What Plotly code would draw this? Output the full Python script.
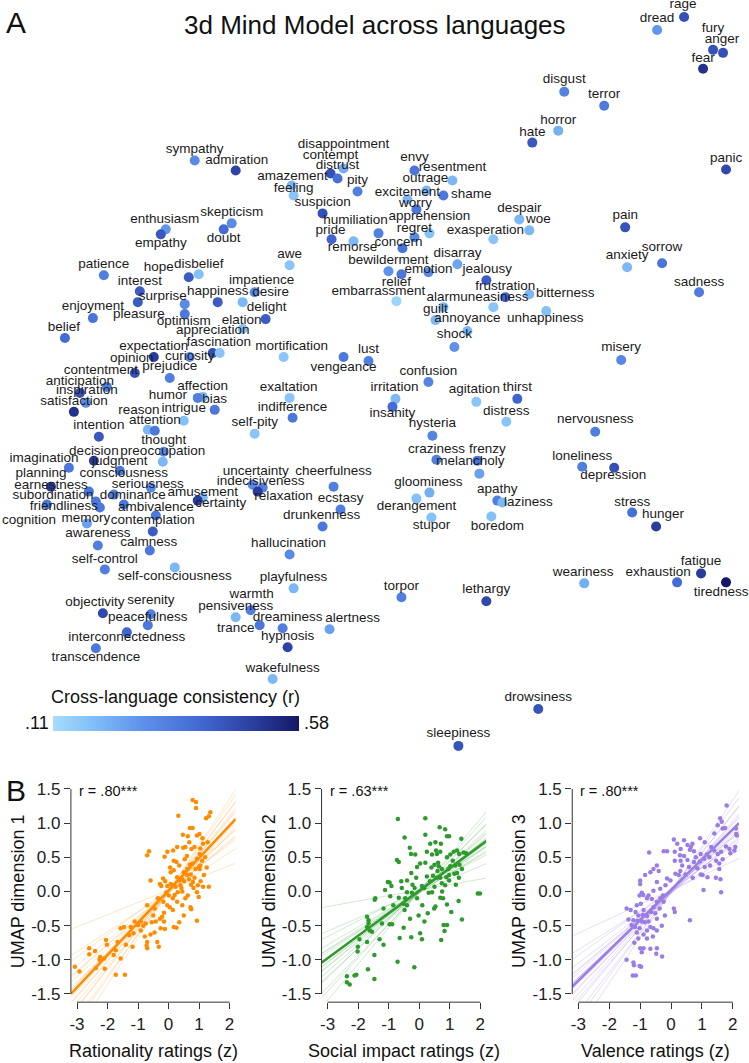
import plotly.graph_objects as go

W, H = 749, 1063
FONT = "Liberation Sans, Arial, sans-serif"

# ---------------- panel A: word map (embedding units) ----------------
words = ["rage", "dread", "fury", "anger", "fear", "disgust", "terror", "horror", "hate", "panic",
         "pain", "sorrow", "anxiety", "sadness", "despair", "woe", "misery", "thirst", "distress", "nervousness",
         "loneliness", "depression", "stress", "hunger", "weariness", "exhaustion", "fatigue", "tiredness", "drowsiness", "sleepiness",
         "lethargy", "sympathy", "admiration", "disappointment", "contempt", "distrust", "amazement", "feeling", "pity", "suspicion",
         "humiliation", "pride", "remorse", "envy", "resentment", "outrage", "excitement", "shame", "worry", "apprehension",
         "regret", "concern", "exasperation", "enthusiasm", "empathy", "skepticism", "doubt", "awe", "bewilderment", "disarray",
         "emotion", "relief", "jealousy", "frustration", "uneasiness", "bitterness", "alarm", "guilt", "annoyance", "unhappiness",
         "embarrassment", "shock", "mortification", "lust", "vengeance", "confusion", "exaltation", "irritation", "agitation", "indifference",
         "insanity", "hysteria", "craziness", "frenzy", "melancholy", "self-pity", "patience", "hope", "disbelief", "interest",
         "surprise", "pleasure", "optimism", "happiness", "impatience", "desire", "delight", "elation", "appreciation", "enjoyment",
         "belief", "fascination", "expectation", "curiosity", "opinion", "prejudice", "contentment", "anticipation", "inspiration", "satisfaction",
         "affection", "humor", "bias", "reason", "intrigue", "attention", "intention", "thought", "decision", "preoccupation",
         "imagination", "judgment", "planning", "consciousness", "earnestness", "seriousness", "subordination", "dominance", "amusement", "certainty",
         "friendliness", "ambivalence", "cognition", "memory", "contemplation", "awareness", "calmness", "self-control", "self-consciousness", "objectivity",
         "serenity", "peacefulness", "interconnectedness", "transcendence", "uncertainty", "indecisiveness", "relaxation", "cheerfulness", "ecstasy", "drunkenness",
         "hallucination", "playfulness", "warmth", "pensiveness", "trance", "dreaminess", "hypnosis", "alertness", "wakefulness", "torpor",
         "gloominess", "derangement", "stupor", "apathy", "laziness", "boredom"]

word_x = [684, 657, 713, 723, 703, 564, 604, 558, 532, 726,
          625, 662, 627, 699, 519, 529, 621, 517, 506, 595,
          582, 614, 632, 656, 584, 677, 701, 726, 538, 458,
          486, 194, 235, 343, 330, 337, 291, 293, 357, 322,
          378, 331, 353, 414, 452, 426, 407, 443, 416, 429,
          414, 402, 493, 165, 160, 231, 223, 289, 388, 457,
          428, 401, 486, 505, 493, 529, 443, 435, 467, 546,
          396, 454, 283, 368, 343, 428, 289, 395, 476, 292,
          392, 432, 436, 477, 479, 254, 103, 188, 198, 139,
          184, 137, 184, 217, 242, 254, 265, 242, 212, 92,
          64, 219, 153, 189, 134, 169, 106, 79, 85, 73,
          202, 197, 214, 147, 183, 154, 98, 163, 93, 162,
          68, 119, 88, 113, 50, 150, 95, 123, 202, 197,
          99, 155, 46, 86, 152, 97, 149, 104, 174, 102,
          150, 147, 126, 95, 262, 252, 257, 333, 340, 322,
          289, 293, 250, 235, 259, 282, 287, 329, 272, 401,
          429, 416, 431, 497, 502, 491]

word_y = [16, 29, 49, 52, 68, 91, 105, 130, 142, 169,
          227, 263, 267, 292, 219, 230, 360, 399, 422, 432,
          467, 468, 513, 527, 584, 583, 574, 583, 710, 747,
          602, 160, 170, 168, 173, 178, 185, 195, 191, 213,
          233, 239, 241, 170, 180, 190, 199, 195, 209, 233,
          237, 248, 239, 229, 234, 223, 229, 265, 271, 264,
          272, 274, 280, 297, 307, 294, 307, 320, 331, 311,
          301, 347, 357, 361, 357, 382, 398, 399, 402, 418,
          407, 436, 460, 461, 474, 434, 275, 277, 274, 291,
          304, 302, 314, 302, 302, 292, 319, 329, 353, 318,
          338, 353, 357, 357, 373, 378, 387, 393, 403, 412,
          397, 398, 410, 430, 421, 431, 437, 452, 461, 462,
          468, 471, 492, 495, 487, 488, 502, 505, 498, 501,
          508, 516, 505, 524, 532, 546, 551, 570, 568, 614,
          615, 626, 633, 649, 488, 485, 492, 487, 510, 527,
          555, 589, 611, 618, 626, 629, 648, 630, 680, 598,
          493, 499, 518, 501, 503, 517]

label_x = [683, 657, 713, 722, 703, 564, 604, 558, 532, 726,
           625, 662, 627, 699, 519, 538, 621, 517, 506, 595,
           582, 613, 632, 663, 583, 658, 701, 721, 538, 458,
           486, 194, 236, 343, 330, 337, 292, 293, 357, 322,
           355, 330, 352, 414, 452, 425, 407, 471, 415, 429,
           414, 398, 485, 164, 160, 231, 223, 289, 388, 457,
           428, 396, 487, 505, 494, 565, 443, 435, 467, 545,
           378, 454, 291, 368, 343, 428, 288, 394, 474, 292,
           392, 432, 436, 487, 470, 254, 103, 158, 198, 139,
           162, 138, 183, 217, 261, 270, 266, 241, 212, 92,
           63, 218, 153, 189, 131, 169, 100, 79, 86, 73,
           202, 167, 214, 138, 183, 154, 98, 163, 93, 162,
           43, 119, 40, 123, 50, 147, 52, 132, 202, 220,
           63, 155, 28, 85, 152, 97, 148, 104, 174, 94,
           150, 147, 126, 95, 255, 260, 283, 333, 340, 321,
           288, 293, 251, 235, 235, 287, 287, 352, 282, 401,
           428, 416, 431, 497, 528, 497]

label_y = [4, 18, 28, 39, 58, 79, 94, 120, 132, 158,
           215, 247, 255, 282, 208, 219, 348, 388, 412, 420,
           457, 476, 503, 515, 573, 573, 562, 593, 699, 735,
           590, 149, 160, 144, 155, 165, 176, 188, 180, 202,
           220, 230, 247, 157, 167, 178, 192, 194, 203, 216,
           228, 242, 230, 219, 243, 212, 238, 254, 260, 253,
           269, 282, 269, 286, 297, 293, 297, 309, 319, 319,
           291, 335, 347, 350, 368, 372, 388, 388, 390, 408,
           414, 424, 450, 450, 462, 423, 264, 267, 264, 281,
           296, 315, 322, 291, 280, 292, 307, 321, 331, 306,
           328, 343, 347, 357, 359, 367, 371, 382, 391, 402,
           387, 396, 400, 411, 409, 421, 426, 441, 452, 452,
           459, 462, 474, 474, 486, 485, 496, 496, 493, 504,
           507, 508, 521, 519, 521, 534, 543, 560, 577, 603,
           601, 618, 638, 658, 472, 482, 497, 472, 499, 516,
           544, 578, 595, 607, 629, 618, 637, 619, 670, 587,
           483, 507, 526, 490, 503, 527]

consistency = [.45, .27, .45, .45, .52, .32, .34, .22, .43, .47,
               .44, .36, .20, .34, .20, .20, .31, .40, .17, .33,
               .33, .45, .37, .50, .22, .38, .50, .58, .44, .44,
               .47, .30, .48, .22, .45, .37, .20, .17, .33, .45,
               .33, .40, .20, .36, .20, .20, .20, .35, .35, .18,
               .30, .36, .17, .27, .43, .30, .38, .17, .28, .24,
               .30, .35, .42, .40, .17, .20, .20, .20, .20, .18,
               .13, .28, .17, .33, .35, .32, .17, .20, .17, .35,
               .38, .32, .33, .36, .25, .17, .33, .42, .18, .42,
               .30, .42, .35, .42, .20, .30, .42, .18, .45, .36,
               .38, .17, .50, .30, .45, .33, .33, .45, .30, .52,
               .20, .33, .35, .20, .18, .35, .43, .30, .50, .20,
               .35, .35, .35, .33, .50, .30, .35, .35, .20, .50,
               .35, .35, .35, .25, .42, .33, .35, .33, .20, .47,
               .33, .35, .40, .35, .33, .30, .50, .33, .33, .35,
               .30, .20, .33, .20, .35, .33, .48, .25, .20, .33,
               .22, .18, .18, .33, .20, .18]

blues = [[0.0, "#a6dcfd"], [0.15, "#84c1f8"], [0.35, "#5f94ec"],
         [0.6, "#4268d2"], [0.8, "#2d41a4"], [1.0, "#141866"]]

# ---------------- panel B: ratings vs UMAP dimensions ----------------
rationality_pts = [
    (0.79, 1.34), (0.90, 1.31), (0.90, 1.22), (0.32, 1.11), (1.23, 1.07), (1.32, 1.10), (1.37, 1.16), (0.70, 0.93), (0.79, 0.93), (0.47, 0.83),
    (0.63, 0.81), (0.93, 0.82), (1.01, 0.84), (1.11, 0.78), (-0.64, 0.59), (-0.70, 0.53), (-0.04, 0.58), (-0.13, 0.51), (0.28, 0.65), (0.48, 0.64),
    (0.55, 0.65), (0.75, 0.62), (0.85, 0.65), (1.04, 0.63), (1.13, 0.70), (1.28, 0.72), (0.17, 0.45), (0.26, 0.43), (0.53, 0.47), (1.02, 0.55),
    (1.10, 0.45), (0.93, 0.48), (1.04, 0.38), (0.70, 0.39), (0.78, 0.41), (0.61, 0.33), (0.88, 0.33), (0.99, 0.36), (1.02, 0.33), (0.07, 0.28),
    (0.17, 0.31), (0.50, 0.28), (0.61, 0.24), (0.73, 0.25), (1.16, 0.24), (-0.18, 0.19), (-0.11, 0.15), (0.28, 0.21), (0.37, 0.16), (0.45, 0.18),
    (0.51, 0.15), (0.67, 0.18), (0.80, 0.14), (0.74, 0.10), (-0.59, 0.16), (-0.28, 0.11), (-0.24, 0.08), (-0.04, 0.08), (0.07, 0.11), (0.12, 0.09),
    (0.23, 0.07), (0.39, 0.09), (0.96, 0.09), (1.13, 0.07), (1.32, 0.07), (-0.07, -0.01), (0.01, -0.06), (0.30, -0.01), (0.45, 0.00), (0.93, -0.01),
    (0.99, -0.08), (0.63, -0.06), (0.14, -0.10), (0.28, -0.15), (-0.17, -0.15), (-0.04, -0.20), (0.45, -0.20), (0.72, -0.23), (0.74, -0.26), (-0.70, -0.20),
    (-0.46, -0.25), (0.04, -0.23), (0.14, -0.27), (-0.15, -0.31), (-0.21, -0.37), (-0.28, -0.40), (-0.15, -0.44), (0.50, -0.35), (0.93, -0.43), (-0.50, -0.35),
    (-0.42, -0.44), (-0.26, -0.54), (-0.46, -0.60), (-0.59, -0.63), (-0.37, -0.74), (-0.32, -0.81), (0.17, -0.52), (0.26, -0.53), (-0.75, -0.47), (-0.91, -0.44),
    (-0.83, -0.50), (-1.00, -0.49), (-0.91, -0.57), (-0.78, -0.66), (-0.70, -0.74), (-0.72, -0.79), (-0.70, -0.83), (-1.11, -0.44), (-1.24, -0.52), (-1.29, -0.64),
    (-1.15, -0.61), (-1.46, -0.52), (-1.57, -0.54), (-1.40, -0.78), (-1.18, -0.81), (-1.57, -0.98), (-1.67, -0.74), (-1.73, -0.86), (-1.80, -0.93), (-2.05, -0.71),
    (-2.02, -0.78), (-2.11, -0.98), (-2.09, -1.13), (-2.24, -0.96), (-2.26, -1.00), (-2.41, -0.87), (-2.60, -0.83), (-2.60, -0.92), (-2.38, -1.12), (-1.73, -1.22),
    (-1.43, -1.22), (-3.07, -1.10), (-2.92, -1.17), (0.35, 0.38), (0.60, 0.52), (0.42, 0.05), (0.20, -0.05), (0.85, 0.20), (1.20, 0.50), (0.55, -0.10),
    (-0.35, -0.10), (0.05, 0.35), (0.68, 0.72), (1.05, 0.15), (0.35, -0.45), (-0.55, -0.45), (0.82, 0.05), (-0.12, -0.55), (1.25, 0.35), (0.15, 0.60)]

social_pts = [
    (-0.70, 1.06), (0.20, 1.07), (-0.48, 0.79), (0.20, 0.83), (0.67, 0.94), (0.85, 0.91), (0.91, 0.81), (0.98, 0.81), (1.38, 0.77), (0.36, 0.70),
    (0.53, 0.72), (0.71, 0.70), (-0.31, 0.64), (-0.27, 0.55), (-0.13, 0.54), (-0.73, 0.46), (-0.67, 0.43), (0.03, 0.41), (0.20, 0.42), (0.42, 0.54),
    (0.58, 0.55), (0.69, 0.58), (1.02, 0.54), (1.13, 0.58), (1.24, 0.60), (1.31, 0.55), (1.45, 0.57), (1.54, 0.56), (0.91, 0.50), (0.50, 0.39),
    (0.64, 0.37), (0.74, 0.33), (0.96, 0.33), (1.02, 0.37), (1.18, 0.38), (1.32, 0.39), (1.40, 0.33), (-0.07, 0.36), (-0.26, 0.27), (-0.40, 0.16),
    (-0.59, 0.15), (-1.03, 0.14), (-0.97, 0.13), (-0.91, 0.08), (0.25, 0.22), (0.45, 0.23), (0.58, 0.20), (0.69, 0.20), (0.89, 0.21), (0.98, 0.24),
    (1.15, 0.26), (1.24, 0.27), (0.98, 0.16), (0.74, 0.12), (-0.22, 0.10), (-0.15, 0.05), (0.09, 0.08), (0.17, 0.05), (0.50, 0.07), (0.85, 0.09),
    (-1.12, 0.02), (-0.57, 0.05), (-0.40, -0.01), (-0.24, -0.02), (0.31, -0.02), (0.42, -0.01), (1.92, -0.03), (1.99, -0.03), (-0.95, -0.07), (-0.67, -0.09),
    (-0.46, -0.10), (-0.07, -0.10), (0.69, -0.09), (0.78, -0.10), (1.29, -0.14), (-1.44, -0.10), (-1.46, -0.12), (-0.51, -0.18), (-0.40, -0.20), (-0.48, -0.27),
    (0.53, -0.22), (0.49, -0.25), (0.91, -0.19), (-1.17, -0.25), (-0.02, -0.35), (0.28, -0.32), (1.05, -0.30), (1.40, -0.41), (0.17, -0.44), (-1.71, -0.37),
    (-1.66, -0.42), (-1.66, -0.47), (-1.71, -0.52), (-1.62, -0.57), (-1.55, -0.59), (-1.22, -0.47), (-0.97, -0.48), (-0.89, -0.48), (-0.51, -0.53), (0.80, -0.49),
    (0.91, -0.49), (0.83, -0.58), (-1.30, -0.70), (-1.96, -0.70), (-1.71, -0.74), (0.03, -0.61), (0.09, -0.70), (-0.64, -0.68), (-0.26, -0.67), (0.72, -0.71),
    (-2.01, -0.81), (-2.02, -0.88), (-1.17, -0.78), (-1.47, -0.93), (-0.71, -1.03), (-0.16, -1.11), (-1.68, -1.14), (-2.37, -1.24), (-2.28, -1.36), (-2.37, -1.33),
    (-2.12, -1.23), (-2.06, -1.22), (-1.47, -1.28), (0.60, 0.30), (0.35, 0.15), (1.10, 0.45), (-0.10, 0.20), (0.62, 0.42), (1.20, 0.10), (0.40, 0.35),
    (-0.85, -0.20), (0.10, -0.20), (0.75, 0.00), (1.30, 0.20), (-0.30, -0.40), (0.55, 0.60), (0.25, 0.58)]

valence_pts = [
    (1.80, 1.26), (1.59, 1.07), (1.64, 1.02), (1.51, 0.97), (1.67, 0.92), (1.75, 0.93), (2.10, 0.92), (2.11, 0.84), (2.13, 0.82), (0.09, 0.76),
    (0.42, 0.75), (0.94, 0.78), (1.09, 0.72), (0.53, 0.68), (0.69, 0.70), (0.64, 0.65), (0.31, 0.62), (0.12, 0.58), (-0.13, 0.59), (-0.24, 0.59),
    (-0.71, 0.57), (0.61, 0.61), (0.74, 0.59), (0.96, 0.55), (1.16, 0.54), (1.40, 0.60), (1.51, 0.55), (1.62, 0.58), (1.78, 0.66), (1.89, 0.62),
    (2.08, 0.65), (2.05, 0.60), (1.92, 0.56), (0.29, 0.53), (0.42, 0.52), (0.12, 0.45), (0.31, 0.45), (0.53, 0.46), (0.74, 0.43), (0.93, 0.44),
    (1.07, 0.48), (1.24, 0.50), (1.46, 0.45), (1.56, 0.41), (1.67, 0.47), (0.36, 0.38), (0.58, 0.36), (-0.46, 0.38), (-0.57, 0.33), (-0.67, 0.28),
    (-0.84, 0.24), (0.85, 0.34), (1.09, 0.36), (1.26, 0.38), (1.56, 0.33), (0.14, 0.26), (0.25, 0.24), (0.47, 0.25), (0.96, 0.25), (1.02, 0.24),
    (1.18, 0.21), (-0.02, 0.16), (-0.13, 0.19), (-0.18, 0.09), (-0.46, 0.14), (-1.00, 0.16), (-1.00, 0.11), (1.05, 0.02), (1.62, -0.01), (-0.35, 0.04),
    (-0.57, 0.01), (-0.95, -0.02), (-1.02, -0.06), (-0.73, -0.06), (-0.78, -0.10), (-0.62, -0.11), (-0.46, -0.15), (-0.35, -0.10), (-0.26, -0.06), (-0.24, -0.15),
    (0.09, -0.25), (0.12, -0.30), (-0.57, -0.23), (-0.37, -0.25), (-1.11, -0.20), (-0.98, -0.18), (-0.89, -0.27), (-1.44, -0.25), (-1.31, -0.27), (-0.51, -0.32),
    (-1.06, -0.35), (-0.92, -0.34), (-0.78, -0.36), (-0.46, -0.40), (-1.38, -0.41), (-1.22, -0.42), (-1.09, -0.43), (-0.95, -0.44), (-0.73, -0.44), (0.61, -0.42),
    (-1.28, -0.49), (-1.17, -0.52), (-1.02, -0.54), (-0.78, -0.57), (-0.67, -0.52), (-0.57, -0.54), (-0.46, -0.57), (-1.11, -0.60), (-0.89, -0.63), (-1.06, -0.69),
    (-0.78, -0.69), (-0.59, -0.66), (-1.19, -0.75), (-0.89, -0.83), (-1.00, -0.83), (-0.67, -0.84), (-0.46, -0.83), (-0.95, -0.89), (-0.48, -0.91), (-0.29, -0.95),
    (-1.44, -1.00), (-1.22, -1.04), (-1.20, -1.08), (-1.02, -1.09), (-0.97, -1.10), (-1.24, -1.23), (-1.14, -1.23), (0.20, 0.70), (0.80, 0.50), (1.30, 0.65),
    (-0.40, 0.30), (-0.85, -0.45), (-0.65, -0.30), (-1.15, -0.30), (-0.30, -0.50), (0.70, 0.20), (1.45, 0.20), (-0.90, -0.05), (-0.20, -0.35), (1.60, 0.18),
    (1.40, 0.85), (0.30, 0.30)]

fit_slope = [0.474, 0.330, 0.443]
fit_icpt = [0.017, 0.012, 0.025]

boot_icpt = [0.02, -0.01, 0.03, 0.00, -0.02, 0.02, 0.01, -0.03, 0.00, 0.03,
             -0.01, 0.01, -0.02, 0.02, 0.00, -0.01, 0.03, -0.02, 0.01, 0.00]
boot_slopes = [
    [0.18, 0.29, 0.33, 0.36, 0.38, 0.40, 0.42, 0.43, 0.45, 0.46, 0.47, 0.49, 0.50, 0.52, 0.54, 0.56, 0.58, 0.61, 0.64, 0.68],
    [0.08, 0.19, 0.23, 0.26, 0.28, 0.29, 0.30, 0.31, 0.32, 0.33, 0.34, 0.35, 0.36, 0.37, 0.39, 0.41, 0.43, 0.46, 0.49, 0.53],
    [0.21, 0.28, 0.32, 0.35, 0.37, 0.39, 0.40, 0.41, 0.42, 0.43, 0.44, 0.45, 0.46, 0.48, 0.50, 0.52, 0.55, 0.58, 0.62, 0.67],
]

r_labels = ["r = .80***", "r = .63***", "r = .80***"]
x_titles = ["Rationality ratings (z)", "Social impact ratings (z)", "Valence ratings (z)"]
y_titles = ["UMAP dimension 1", "UMAP dimension 2", "UMAP dimension 3"]
colors = ["#ff8c00", "#2e9a2e", "#9b7de6"]
faint = ["rgba(255,140,0,0.22)", "rgba(46,154,46,0.22)", "rgba(155,125,230,0.25)"]

x_ticks = [-3, -2, -1, 0, 1, 2]
y_ticks = [-1.5, -1.0, -0.5, 0.0, 0.5, 1.0, 1.5]
X_RANGE = [-3.2, 2.2]
Y_RANGE = [-1.62, 1.62]

# plotly prints negatives with a true minus sign; the original uses a plain hyphen
MINUS = "\u2212"
x_alias = {f"{MINUS}{abs(v)}": f"-{abs(v)}" for v in x_ticks if v < 0}
y_alias = {f"{MINUS}{abs(v):.1f}": f"-{abs(v):.1f}" for v in y_ticks if v < 0}

# ---------------- figure ----------------
fig = go.Figure()

fig.add_trace(go.Scatter(
    x=word_x, y=word_y, mode="markers", hoverinfo="skip",
    marker=dict(size=10, color=consistency, cmin=0.11, cmax=0.58, colorscale=blues,
                line=dict(width=0), showscale=True,
                colorbar=dict(orientation="h", x=52 / W, xanchor="left",
                              y=(H - 732) / H, yanchor="bottom", len=246 / W, lenmode="fraction",
                              thickness=15, outlinewidth=0, showticklabels=False, ticks="",
                              xpad=0, ypad=0)),
    xaxis="x", yaxis="y"))
fig.add_trace(go.Scatter(
    x=label_x, y=label_y, mode="text", text=words, hoverinfo="skip",
    textfont=dict(size=13.5, color="#1a1a1a", family=FONT),
    xaxis="x", yaxis="y"))

b_domains = [(70 / W, 235 / W), (321 / W, 486 / W), (572 / W, 739 / W)]
b_ydomain = [(H - 1004) / H, (H - 782) / H]
pts_sets = [rationality_pts, social_pts, valence_pts]

annotations = [
    dict(text="A", x=15 / W, y=1 - 22 / H, font=dict(size=30)),
    dict(text="3d Mind Model across languages", x=375 / W, y=1 - 24 / H, font=dict(size=26)),
    dict(text="B", x=15 / W, y=1 - 792 / H, font=dict(size=30)),
    dict(text="Cross-language consistency (r)", x=175 / W, y=1 - 698 / H, font=dict(size=18)),
    dict(text=".11", x=50 / W, y=1 - 724 / H, xanchor="right", font=dict(size=18)),
    dict(text=".58", x=301 / W, y=1 - 724 / H, xanchor="left", font=dict(size=18)),
]
for a in annotations:
    a.update(xref="paper", yref="paper", showarrow=False)
    a.setdefault("xanchor", "center")
    a["yanchor"] = "middle"
    a["font"].update(family=FONT, color="#111")

shapes = []
layout_axes = {}
for i in range(3):
    n = i + 2
    xa, ya = f"x{n}", f"y{n}"
    xs, ys = zip(*pts_sets[i])

    fig.add_trace(go.Scatter(x=list(xs), y=list(ys), mode="markers", hoverinfo="skip",
                             marker=dict(size=4.5, color=colors[i], line=dict(width=0)),
                             xaxis=xa, yaxis=ya))
    bx, by = [], []
    for b, a in zip(boot_slopes[i], boot_icpt):
        bx += [X_RANGE[0], X_RANGE[1], None]
        by += [a + b * X_RANGE[0], a + b * X_RANGE[1], None]
    fig.add_trace(go.Scatter(x=bx, y=by, mode="lines", hoverinfo="skip",
                             line=dict(color=faint[i], width=1), xaxis=xa, yaxis=ya))
    fig.add_trace(go.Scatter(x=X_RANGE,
                             y=[fit_icpt[i] + fit_slope[i] * v for v in X_RANGE],
                             mode="lines", hoverinfo="skip",
                             line=dict(color=colors[i], width=2.5), xaxis=xa, yaxis=ya))

    layout_axes[f"xaxis{n}"] = dict(
        domain=b_domains[i], range=X_RANGE, anchor=ya,
        tickmode="array", tickvals=x_ticks, tickformat="d", labelalias=x_alias,
        ticks="outside", ticklen=6, tickcolor="#333", showline=False,
        showgrid=False, zeroline=False, tickfont=dict(size=17, color="#222"))
    layout_axes[f"yaxis{n}"] = dict(
        domain=b_ydomain, range=Y_RANGE, anchor=xa,
        tickmode="array", tickvals=y_ticks, tickformat=".1f", labelalias=y_alias,
        ticks="outside", ticklen=6, tickcolor="#333", showline=False,
        showgrid=False, zeroline=False, tickfont=dict(size=17, color="#222"))

    shapes.append(dict(type="line", xref=xa, yref=f"{ya} domain",
                       x0=x_ticks[0], x1=x_ticks[-1], y0=0, y1=0,
                       line=dict(color="#333", width=1)))
    shapes.append(dict(type="line", xref=f"{xa} domain", yref=ya,
                       x0=0, x1=0, y0=y_ticks[0], y1=y_ticks[-1],
                       line=dict(color="#333", width=1)))

    annotations += [
        dict(text=r_labels[i], xref=f"{xa} domain", yref=f"{ya} domain", x=0.036, y=0.955,
             xanchor="left", yanchor="middle", showarrow=False,
             font=dict(size=14.5, family=FONT, color="#111")),
        dict(text=x_titles[i], xref=f"{xa} domain", yref=f"{ya} domain", x=0.5, y=-0.22,
             xanchor="center", yanchor="middle", showarrow=False,
             font=dict(size=18, family=FONT, color="#111")),
        dict(text=y_titles[i], xref=f"{xa} domain", yref=f"{ya} domain", x=-0.316, y=0.5,
             xanchor="center", yanchor="middle", textangle=-90, showarrow=False,
             font=dict(size=18, family=FONT, color="#111")),
    ]

fig.update_layout(
    width=W, height=H,
    margin=dict(l=0, r=0, t=0, b=0),
    paper_bgcolor="white", plot_bgcolor="white",
    font=dict(family=FONT, color="#111"),
    showlegend=False,
    xaxis=dict(domain=[0, 1], range=[0, W], visible=False, anchor="y"),
    yaxis=dict(domain=[(H - 760) / H, 1], range=[760, 0], visible=False, anchor="x"),
    annotations=annotations,
    shapes=shapes,
    **layout_axes,
)

# the page body has a default 8px margin; drop it so the figure fills the window
fig.write_html("out.html", config={"displayModeBar": False},
               post_script="document.body.style.margin='0';document.body.style.overflow='hidden';")
